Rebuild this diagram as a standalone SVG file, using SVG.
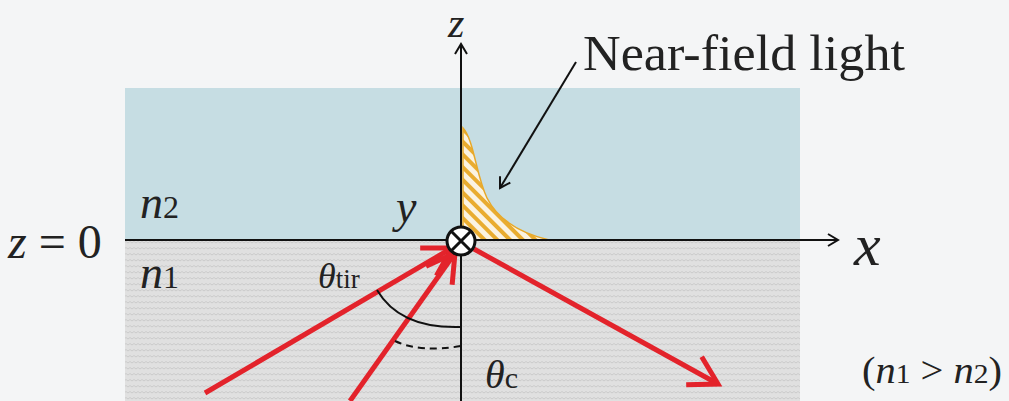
<svg xmlns="http://www.w3.org/2000/svg" width="1009" height="401" viewBox="0 0 1009 401">
<style>
.i{font-style:italic}
.ray{stroke:#e3232b;stroke-width:5;fill:none}
.ax{stroke:#111;stroke-width:2;fill:none}
</style>
<defs>
<pattern id="wav" width="8" height="6" patternUnits="userSpaceOnUse">
<rect width="8" height="6" fill="#e0e0e0"/>
<path d="M0,3 L2,1.5 L4,3 L6,1.5 L8,3" stroke="#cbcbcb" stroke-width="1" fill="none"/>
</pattern>
<pattern id="hatch" width="9" height="9" patternUnits="userSpaceOnUse" patternTransform="rotate(-45)">
<rect width="9" height="9" fill="#fbf3e2"/>
<rect width="4" height="9" fill="#e9ac30"/>
</pattern>
<marker id="ra" markerWidth="8" markerHeight="8" refX="6" refY="4" orient="auto" markerUnits="strokeWidth">
<path d="M0.5,0.8 L6,4 L0.5,7.2" stroke="#e3232b" stroke-width="1" fill="none"/>
</marker>
<marker id="ka" markerWidth="14" markerHeight="14" refX="11" refY="7" orient="auto" markerUnits="userSpaceOnUse">
<path d="M1,1 L11,7 L1,13" stroke="#111" stroke-width="2" fill="none"/>
</marker>
</defs>
<rect width="1009" height="401" fill="#f4f5f6"/>
<g id="medium2"><rect x="125" y="88" width="675" height="152" fill="#c6dde3"/></g>
<g id="medium1"><rect x="125" y="240" width="675" height="161" fill="url(#wav)"/></g>
<g id="nearfield">
<path d="M463,128 L463,240 L549,240 C520,233 498,220 487,198 C476,175 474,140 463,128 Z" fill="url(#hatch)" stroke="#e8a828" stroke-width="1.5"/>
</g>
<g id="connectors">
<line class="ax" x1="125" y1="240" x2="838" y2="240" marker-end="url(#ka)"/>
<line class="ax" x1="461" y1="401" x2="461" y2="44" marker-end="url(#ka)"/>
<line class="ax" x1="576" y1="62" x2="500" y2="188" marker-end="url(#ka)" stroke-width="2.5"/>
<line class="ray" x1="205" y1="393" x2="452" y2="248" marker-end="url(#ra)"/>
<line class="ray" x1="350" y1="401" x2="455" y2="253" marker-end="url(#ra)"/>
<line class="ray" x1="474" y1="249" x2="718" y2="384" marker-end="url(#ra)"/>
<path d="M377,290 Q400,329 461,327" stroke="#111" stroke-width="2" fill="none"/>
<path d="M395,341 Q420,353 461,346" stroke="#111" stroke-width="2" fill="none" stroke-dasharray="7,5"/>
</g>
<g id="yaxis">
<circle cx="461" cy="241" r="14" fill="#fff" stroke="#111" stroke-width="3"/>
<path d="M451,231 L471,251 M471,231 L451,251" stroke="#111" stroke-width="3"/>
</g>
<g id="labels" font-family="'Liberation Serif', 'DejaVu Serif', serif" fill="#222">
<text class="i" x="448" y="37" font-size="42">z</text>
<text x="583" y="70" font-size="50" textLength="322" lengthAdjust="spacingAndGlyphs">Near-field light</text>
<text class="i" x="396" y="222" font-size="46">y</text>
<text x="140" y="218" font-size="46"><tspan class="i">n</tspan><tspan font-size="32">2</tspan></text>
<text x="140" y="288" font-size="46"><tspan class="i">n</tspan><tspan font-size="32">1</tspan></text>
<text x="8" y="258" font-size="48"><tspan class="i">z</tspan> = 0</text>
<text x="318" y="288" font-size="36"><tspan class="i">θ</tspan><tspan font-size="27">tir</tspan></text>
<text x="485" y="388" font-size="40"><tspan class="i">θ</tspan><tspan font-size="30">c</tspan></text>
<text class="i" x="854" y="265" font-size="60">x</text>
<text x="862" y="383" font-size="37" textLength="140" lengthAdjust="spacingAndGlyphs">(<tspan class="i">n</tspan><tspan font-size="27">1</tspan> &gt; <tspan class="i">n</tspan><tspan font-size="27">2</tspan>)</text>
</g>
</svg>
